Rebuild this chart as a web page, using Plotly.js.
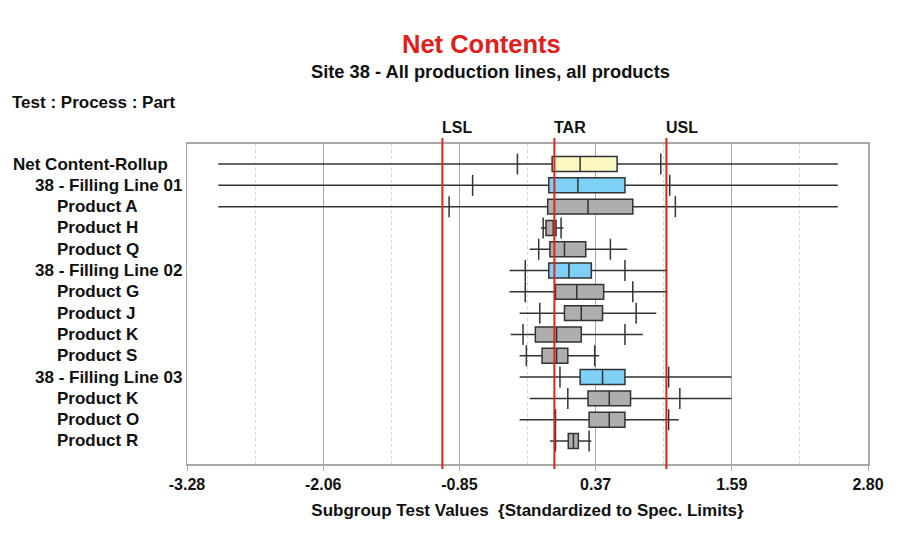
<!DOCTYPE html>
<html>
<head>
<meta charset="utf-8">
<script src="https://cdn.plot.ly/plotly-3.0.1.min.js"></script>
<style>html,body{margin:0;padding:0;background:#fff;}#chart{width:900px;height:550px;}</style>
</head>
<body>
<div id="chart"></div>
<script>
// ---- data ----
const categories = ["Net Content-Rollup","38 - Filling Line 01","Product A","Product H","Product Q",
  "38 - Filling Line 02","Product G","Product J","Product K","Product S",
  "38 - Filling Line 03","Product K","Product O","Product R"];
const levels = [0,1,2,2,2,1,2,2,2,2,1,2,2,2];
const minVals = [-3.00,-3.00,-3.00,-0.12,-0.22,-0.40,-0.40,-0.31,-0.39,-0.31,-0.31,-0.22,-0.31,-0.04];
const p5Vals  = [-0.33,-0.73,-0.94,-0.10,-0.14,-0.26,-0.26,-0.13,-0.28,-0.25, 0.05, 0.12, 0.01, 0.01];
const q1Vals  = [-0.02,-0.05,-0.06,-0.075,-0.04,-0.05, 0.01, 0.09,-0.17,-0.11, 0.23, 0.30, 0.31, 0.124];
const medVals = [ 0.23, 0.21, 0.30,-0.01, 0.09, 0.13, 0.20, 0.24, 0.02, 0.02, 0.43, 0.49, 0.49, 0.17];
const q3Vals  = [ 0.56, 0.63, 0.70, 0.015, 0.28, 0.33, 0.44, 0.43, 0.24, 0.12, 0.63, 0.68, 0.63, 0.214];
const p95Vals = [ 0.95, 1.03, 1.08, 0.06, 0.50, 0.63, 0.70, 0.73, 0.63, 0.36, 1.02, 1.12, 1.02, 0.31];
const maxVals = [ 2.53, 2.53, 2.53, 0.08, 0.65, 1.01, 1.01, 0.91, 0.79, 0.40, 1.58, 1.58, 1.11, 0.33];
const tickVals = [-3.28,-2.064,-0.848,0.368,1.584,2.80];
const tickLabels = ["-3.28","-2.06","-0.85","0.37","1.59","2.80"];
const specNames = ["LSL","TAR","USL"];
const specVals = [-1, 0, 1];

// ---- style ----
const FONT = "Liberation Sans, Arial, sans-serif";
const fills = ["#FDF8C2", "#7FD0F6", "#AEAEAE"];
const pos = categories.map((c,i)=>i);

const traces = [];
[0,1,2].forEach(lv => {
  const idx = pos.filter(i => levels[i] === lv);
  traces.push({
    type: "box", orientation: "h",
    y: idx.map(i=>pos[i]),
    q1: idx.map(i=>q1Vals[i]),
    median: idx.map(i=>medVals[i]),
    q3: idx.map(i=>q3Vals[i]),
    lowerfence: idx.map(i=>minVals[i]),
    upperfence: idx.map(i=>maxVals[i]),
    width: 0.70,
    whiskerwidth: 0,
    fillcolor: fills[lv],
    line: {color: "#333333", width: 1.5},
    boxpoints: false,
    hoverinfo: "skip",
    showlegend: false
  });
});
traces.push({
  type: "scatter", mode: "markers",
  x: p5Vals.concat(p95Vals), y: pos.concat(pos),
  marker: {symbol: "line-ns", size: 15, line: {width: 1.5, color: "#333333"}, color: "#333333"},
  hoverinfo: "skip", showlegend: false
});

const annotations = [];
const indentPx = [11, 33, 55];
categories.forEach((c,i) => {
  annotations.push({
    xref: "paper", yref: "y", x: (indentPx[levels[i]] - 187)/681, y: pos[i],
    xanchor: "left", yanchor: "middle", showarrow: false,
    text: "<b>" + c + "</b>", font: {family: FONT, size: 17, color: "#111"}
  });
});
specNames.forEach((n,i) => {
  annotations.push({
    xref: "x", yref: "paper", x: specVals[i], y: (464-128)/320,
    xanchor: "left", yanchor: "middle", showarrow: false, xshift: -2,
    text: "<b>" + n + "</b>", font: {family: FONT, size: 16, color: "#111"}
  });
});
annotations.push({xref:"paper", yref:"paper", x:(481-187)/681, y:(464-44)/320, xanchor:"center", yanchor:"middle",
  showarrow:false, text:"<b>Net Contents</b>", font:{family:FONT, size:25.5, color:"#E0201B"}});
annotations.push({xref:"paper", yref:"paper", x:(490-187)/681, y:(464-72)/320, xanchor:"center", yanchor:"middle",
  showarrow:false, text:"<b>Site 38 - All production lines, all products</b>", font:{family:FONT, size:18.3, color:"#111"}});
annotations.push({xref:"paper", yref:"paper", x:(10-187)/681, y:(464-103)/320, xanchor:"left", yanchor:"middle",
  showarrow:false, text:"<b>Test : Process : Part</b>", font:{family:FONT, size:17, color:"#111"}});

const shapes = specVals.map(v => ({
  type: "line", xref: "x", yref: "paper", x0: v, x1: v, y0: -5/320, y1: 1 + 6/320,
  line: {color: "#D8261C", width: 2}, layer: "above"
}));

const layout = {
  width: 900, height: 550,
  margin: {l: 187, r: 32, t: 144, b: 86},
  paper_bgcolor: "#ffffff", plot_bgcolor: "#ffffff",
  font: {family: FONT, color: "#111"},
  boxmode: "overlay",
  showlegend: false,
  xaxis: {
    range: [-3.28, 2.80], tickmode: "array", tickvals: tickVals,
    ticktext: tickLabels.map(t => "<b>" + t + "</b>"),
    tickfont: {family: FONT, size: 16, color: "#111"},
    ticks: "outside", ticklen: 5, tickcolor: "#aaaaaa", tickwidth: 1,
    showgrid: true, gridcolor: "#a8a8a8", gridwidth: 1,
    minor: {tick0: -3.28, dtick: 0.608, showgrid: true, gridcolor: "#d6d6d6", griddash: "dot", gridwidth: 1},
    showline: true, linecolor: "#a8a8a8", linewidth: 2, mirror: true,
    zeroline: false, fixedrange: true,
    title: {text: "<b>Subgroup Test Values  {Standardized to Spec. Limits}</b>", font: {family: FONT, size: 17, color: "#111"}, standoff: 12}
  },
  yaxis: {
    range: [14.08, -0.94], showticklabels: false, ticks: "", showgrid: false,
    zeroline: false, showline: true, linecolor: "#a8a8a8", linewidth: 1.5, mirror: true, fixedrange: true
  },
  annotations: annotations,
  shapes: shapes
};

Plotly.newPlot("chart", traces, layout, {displayModeBar: false, staticPlot: true});
</script>
</body>
</html>
